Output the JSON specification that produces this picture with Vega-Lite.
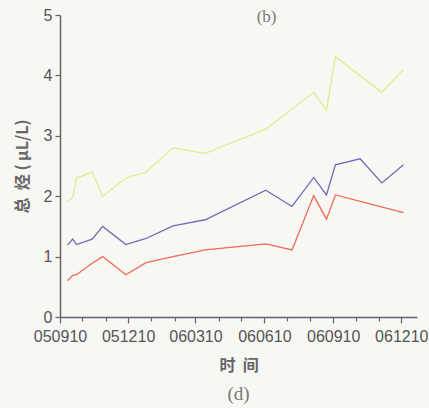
{
  "$schema": "https://vega.github.io/schema/vega-lite/v6.json",
  "width": 357,
  "height": 302,
  "autosize": {"type": "none"},
  "padding": {"left": 60, "top": 15, "right": 12, "bottom": 91},
  "background": "#f7f7f4",
  "title": {
    "text": "(d)",
    "orient": "bottom",
    "anchor": "middle",
    "font": "Liberation Serif",
    "fontSize": 19,
    "fontWeight": "normal",
    "color": "#777777",
    "offset": 12
  },
  "config": {
    "view": {"stroke": null},
    "axis": {"grid": false}
  },
  "resolve": {"axis": {"x": "independent"}},
  "data": {
    "values": [
      {"date": "2005-09-20", "series": "upper", "value": 1.91},
      {"date": "2005-09-27", "series": "upper", "value": 1.98},
      {"date": "2005-10-02", "series": "upper", "value": 2.30},
      {"date": "2005-10-23", "series": "upper", "value": 2.40},
      {"date": "2005-11-06", "series": "upper", "value": 2.00},
      {"date": "2005-12-07", "series": "upper", "value": 2.30},
      {"date": "2006-01-03", "series": "upper", "value": 2.40},
      {"date": "2006-02-08", "series": "upper", "value": 2.80},
      {"date": "2006-03-23", "series": "upper", "value": 2.71},
      {"date": "2006-06-12", "series": "upper", "value": 3.11},
      {"date": "2006-08-15", "series": "upper", "value": 3.72},
      {"date": "2006-09-01", "series": "upper", "value": 3.42},
      {"date": "2006-09-13", "series": "upper", "value": 4.31},
      {"date": "2006-11-14", "series": "upper", "value": 3.72},
      {"date": "2006-12-13", "series": "upper", "value": 4.10},

      {"date": "2005-09-20", "series": "middle", "value": 1.19},
      {"date": "2005-09-27", "series": "middle", "value": 1.29},
      {"date": "2005-10-02", "series": "middle", "value": 1.20},
      {"date": "2005-10-23", "series": "middle", "value": 1.29},
      {"date": "2005-11-06", "series": "middle", "value": 1.50},
      {"date": "2005-12-07", "series": "middle", "value": 1.20},
      {"date": "2006-01-03", "series": "middle", "value": 1.30},
      {"date": "2006-02-08", "series": "middle", "value": 1.51},
      {"date": "2006-03-23", "series": "middle", "value": 1.61},
      {"date": "2006-06-12", "series": "middle", "value": 2.10},
      {"date": "2006-07-17", "series": "middle", "value": 1.83},
      {"date": "2006-08-15", "series": "middle", "value": 2.31},
      {"date": "2006-09-01", "series": "middle", "value": 2.02},
      {"date": "2006-09-13", "series": "middle", "value": 2.52},
      {"date": "2006-10-16", "series": "middle", "value": 2.62},
      {"date": "2006-11-14", "series": "middle", "value": 2.22},
      {"date": "2006-12-13", "series": "middle", "value": 2.52},

      {"date": "2005-09-20", "series": "lower", "value": 0.60},
      {"date": "2005-09-27", "series": "lower", "value": 0.69},
      {"date": "2005-10-02", "series": "lower", "value": 0.70},
      {"date": "2005-10-23", "series": "lower", "value": 0.89},
      {"date": "2005-11-06", "series": "lower", "value": 1.00},
      {"date": "2005-12-07", "series": "lower", "value": 0.70},
      {"date": "2006-01-03", "series": "lower", "value": 0.90},
      {"date": "2006-02-08", "series": "lower", "value": 1.00},
      {"date": "2006-03-23", "series": "lower", "value": 1.11},
      {"date": "2006-06-12", "series": "lower", "value": 1.21},
      {"date": "2006-07-17", "series": "lower", "value": 1.11},
      {"date": "2006-08-15", "series": "lower", "value": 2.01},
      {"date": "2006-09-01", "series": "lower", "value": 1.62},
      {"date": "2006-09-13", "series": "lower", "value": 2.02},
      {"date": "2006-12-13", "series": "lower", "value": 1.73}
    ]
  },
  "layer": [
    {
      "mark": {"type": "line", "strokeWidth": 1.3},
      "encoding": {
        "x": {
          "field": "date",
          "type": "temporal",
          "scale": {
            "type": "utc",
            "nice": false,
            "domain": [
              {"year": 2005, "month": 9, "date": 10, "utc": true},
              {"year": 2006, "month": 12, "date": 31, "utc": true}
            ]
          },
          "axis": {
            "orient": "bottom",
            "title": "时\u00a0\u00a0间",
            "titleFont": "Noto Sans CJK SC",
            "titleFontSize": 16,
            "titleFontWeight": "bold",
            "titleColor": "#666666",
            "titlePadding": 13,
            "values": [
              {"year": 2005, "month": 9, "date": 10, "utc": true},
              {"year": 2005, "month": 12, "date": 10, "utc": true},
              {"year": 2006, "month": 3, "date": 10, "utc": true},
              {"year": 2006, "month": 6, "date": 10, "utc": true},
              {"year": 2006, "month": 9, "date": 10, "utc": true},
              {"year": 2006, "month": 12, "date": 10, "utc": true}
            ],
            "format": "%y%m%d",
            "labelFont": "Liberation Sans",
            "labelFontSize": 16,
            "labelColor": "#555555",
            "labelPadding": 5,
            "labelOverlap": false,
            "labelFlush": false,
            "domainColor": "#5b6477",
            "domainWidth": 1.5,
            "tickColor": "#5b6477",
            "tickSize": 6,
            "tickWidth": 1.2
          }
        },
        "y": {
          "field": "value",
          "type": "quantitative",
          "scale": {"domain": [0, 5], "nice": false},
          "axis": {
            "title": "总\u00a0\u00a0烃\u00a0(\u00a0μL/L)",
            "titleFont": "Noto Sans CJK SC",
            "titleFontSize": 16,
            "titleFontWeight": "bold",
            "titleColor": "#666666",
            "titlePadding": 13,
            "values": [0, 0.5, 1, 1.5, 2, 2.5, 3, 3.5, 4, 4.5, 5],
            "labelExpr": "datum.value % 1 == 0 ? format(datum.value, 'd') : ''",
            "labelFont": "Liberation Sans",
            "labelFontSize": 16,
            "labelColor": "#555555",
            "labelPadding": 3,
            "labelOverlap": false,
            "labelFlush": false,
            "domainColor": "#666666",
            "domainWidth": 1.5,
            "tickColor": "#666666",
            "tickSize": 5,
            "tickWidth": 1.2
          }
        },
        "color": {
          "field": "series",
          "type": "nominal",
          "scale": {
            "domain": ["upper", "middle", "lower"],
            "range": ["#e3eb8a", "#6c6cb8", "#ee6a55"]
          },
          "legend": null
        }
      }
    },
    {
      "data": {"values": [{"label": "(b)"}]},
      "mark": {
        "type": "text",
        "font": "Liberation Serif",
        "fontSize": 17,
        "color": "#777777"
      },
      "encoding": {
        "x": {
          "datum": {"year": 2006, "month": 6, "date": 13, "utc": true},
          "type": "temporal",
          "axis": {
            "orient": "bottom",
            "title": null,
            "labels": false,
            "domain": false,
            "values": [
              {"year": 2005, "month": 10, "date": 10, "utc": true},
              {"year": 2005, "month": 11, "date": 10, "utc": true},
              {"year": 2006, "month": 1, "date": 10, "utc": true},
              {"year": 2006, "month": 2, "date": 10, "utc": true},
              {"year": 2006, "month": 4, "date": 10, "utc": true},
              {"year": 2006, "month": 5, "date": 10, "utc": true},
              {"year": 2006, "month": 7, "date": 10, "utc": true},
              {"year": 2006, "month": 8, "date": 10, "utc": true},
              {"year": 2006, "month": 10, "date": 10, "utc": true},
              {"year": 2006, "month": 11, "date": 10, "utc": true}
            ],
            "tickColor": "#5b6477",
            "tickSize": 4,
            "tickWidth": 1.2
          }
        },
        "y": {"datum": 4.96, "type": "quantitative"},
        "text": {"field": "label"}
      }
    }
  ]
}
